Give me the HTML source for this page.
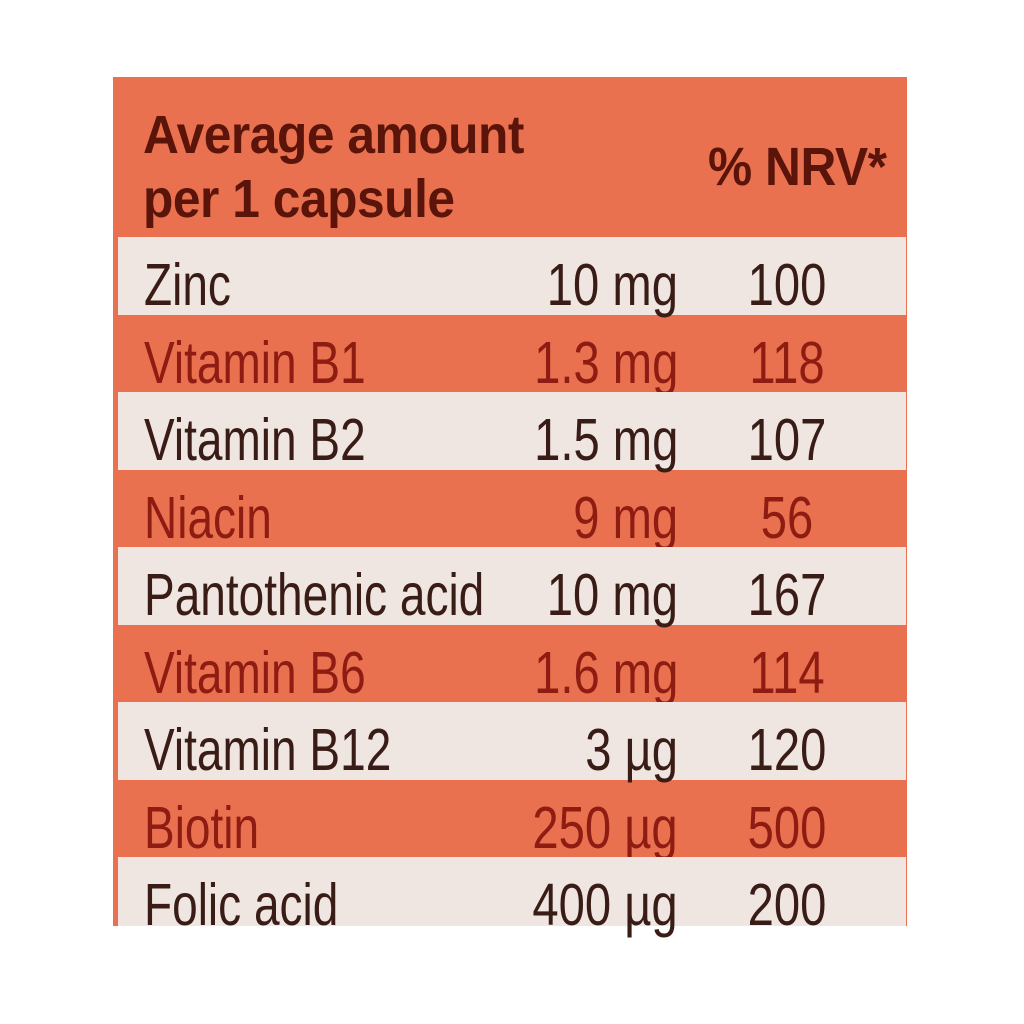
<!DOCTYPE html>
<html><head><style>
body{margin:0;width:1024px;height:1024px;background:#fff;position:relative;overflow:hidden;font-family:"Liberation Sans",sans-serif}
.box{position:absolute;left:113px;top:77px;width:794px;height:849px;background:#e9714f}
.row{position:absolute;left:118px;width:788px;height:78px}
.w{background:#efe6e2;color:#3a1c16}
.o{color:#8e1c12}
.t{position:absolute;font-size:59px;line-height:1;top:19px;white-space:nowrap}
.n{left:26px;transform:scaleX(0.78);transform-origin:left top}
.a{right:228px;text-align:right;transform:scaleX(0.8);transform-origin:right top}
.p{left:619px;width:100px;text-align:center;transform:scaleX(0.8);transform-origin:center top}
.h{position:absolute;font-weight:bold;color:#5a140a;font-size:54px;line-height:1;transform-origin:left top;transform:scaleX(0.92);letter-spacing:-0.5px;white-space:nowrap}
</style></head><body>
<div class="box"></div>
<div class="h" style="left:143px;top:108px">Average amount</div>
<div class="h" style="left:143px;top:172px">per 1 capsule</div>
<div class="h" style="left:708px;top:140px">% NRV*</div>
<div class="row w" style="top:237px"><div class="t n">Zinc</div><div class="t a">10 mg</div><div class="t p">100</div></div>
<div class="row o" style="top:315px"><div class="t n">Vitamin B1</div><div class="t a">1.3 mg</div><div class="t p">118</div></div>
<div class="row w" style="top:392px"><div class="t n">Vitamin B2</div><div class="t a">1.5 mg</div><div class="t p">107</div></div>
<div class="row o" style="top:470px"><div class="t n">Niacin</div><div class="t a">9 mg</div><div class="t p">56</div></div>
<div class="row w" style="top:547px"><div class="t n">Pantothenic acid</div><div class="t a">10 mg</div><div class="t p">167</div></div>
<div class="row o" style="top:625px"><div class="t n">Vitamin B6</div><div class="t a">1.6 mg</div><div class="t p">114</div></div>
<div class="row w" style="top:702px"><div class="t n">Vitamin B12</div><div class="t a">3 µg</div><div class="t p">120</div></div>
<div class="row o" style="top:780px"><div class="t n">Biotin</div><div class="t a">250 µg</div><div class="t p">500</div></div>
<div class="row w" style="top:857px;height:69px"><div class="t n">Folic acid</div><div class="t a">400 µg</div><div class="t p">200</div></div>
</body></html>
